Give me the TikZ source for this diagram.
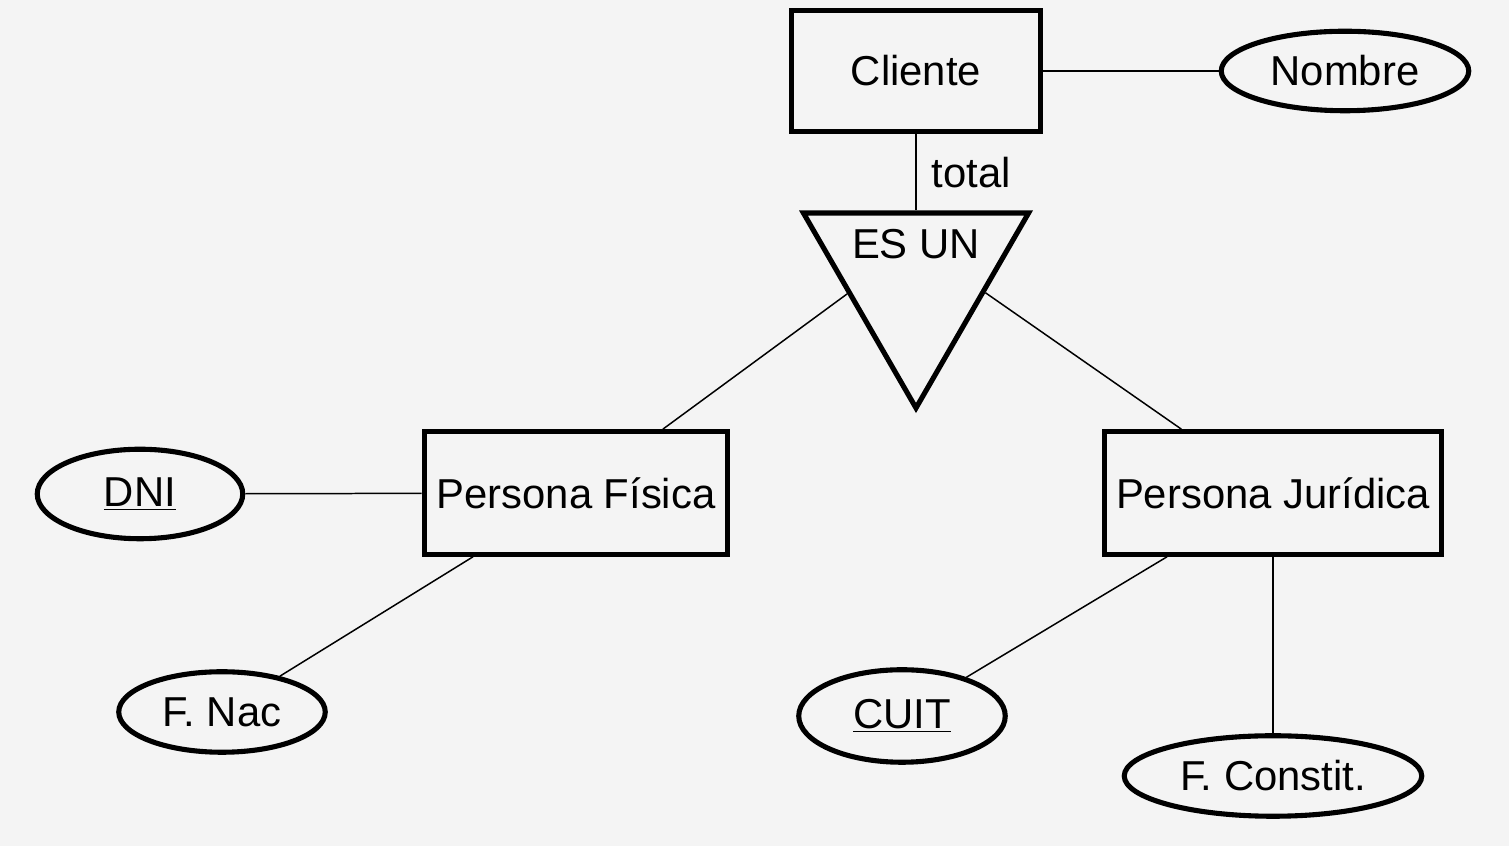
\documentclass[tikz,border=0pt]{standalone}
\usepackage{fontspec}
\setmainfont{Liberation Sans}
\usetikzlibrary{shapes.geometric}
\definecolor{bgGray}{HTML}{F4F4F4}

\begin{document}
\begin{tikzpicture}[
	every node/.style={font=\fontsize{23.8pt}{28pt}\selectfont},
	entity/.style={draw, line width=\thickW, minimum width=#1, minimum height=2.45cm, inner sep=0pt},
	attrib/.style n args={2}{ellipse, draw, line width=\thickW, minimum width=#1, minimum height=#2, inner sep=2pt},
	conn/.style={line width=\thinW}
]

	\def\thickW{2.9pt};
	\def\thinW{0.85pt};

	% Background
	\path[use as bounding box, fill=bgGray] (0,0) rectangle (30.18,16.92);

	% Entities
	\node[entity=4.98cm, minimum height=2.42cm] (cliente) at (18.32,15.50) {Cliente};
	\node[entity=6.07cm] (pf) at (11.52,7.06) {Persona Física};
	\node[entity=6.75cm] (pj) at (25.46,7.06) {Persona Jurídica};

	% ES UN
	\node[regular polygon, regular polygon sides=3, shape border rotate=180, draw,
		line width=\thickW, minimum size=5.2cm, inner sep=0pt] (esun) at (18.32,11.36) {};
	\node (esunlbl) at (18.32,12.04) {ES UN};

	% Attributes
	\node[attrib={4.95cm}{1.59cm}] (nombre) at (26.90,15.50) {Nombre};
	\node[attrib={4.11cm}{1.79cm}] (dni) at (2.80,7.04) {\underline{DNI}};
	\node[attrib={4.13cm}{1.61cm}] (fnac) at (4.44,2.68) {F. Nac};
	\node[attrib={4.13cm}{1.85cm}] (cuit) at (18.04,2.60) {\underline{CUIT}};
	\node[attrib={5.95cm}{1.61cm}] (fconst) at (25.46,1.40) {F. Constit.};

	% Connectors
	\draw[conn] (cliente) -- (nombre);
	\draw[conn] (cliente) -- (esun) node[midway, right, xshift=0.18cm] {total};
	\draw[conn] (esun.193) -- (pf);
	\draw[conn] (esun.348) -- (pj);
	\draw[conn] (dni) -- (pf);
	\draw[conn] (pf) -- (fnac);
	\draw[conn] (pj) -- (cuit);
	\draw[conn] (pj) -- (fconst);

\end{tikzpicture}
\end{document}
